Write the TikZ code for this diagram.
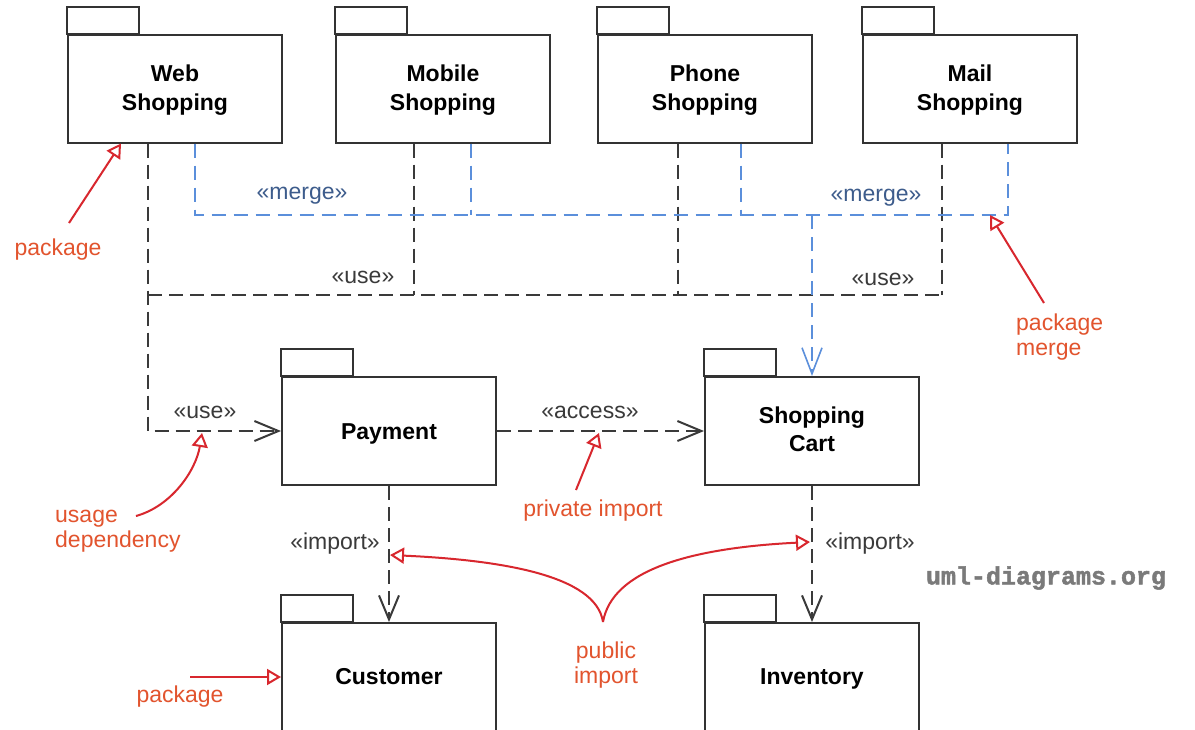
\documentclass[tikz,border=0pt]{standalone}
\usepackage{fontspec}
\setmainfont{Liberation Sans}
\newfontfamily\wmfont[BoldFeatures={FakeBold=1.8}]{Liberation Mono}
\usetikzlibrary{arrows.meta,calc}
\definecolor{boxline}{HTML}{333333}
\definecolor{depline}{HTML}{3A3A3A}
\definecolor{mergeblue}{HTML}{5B8FDB}
\definecolor{mergetext}{HTML}{3D5C8C}
\definecolor{notered}{HTML}{D8272E}
\definecolor{notetext}{HTML}{E2542E}
\definecolor{wmgray}{HTML}{7A7A7A}
\newcommand{\twoline}[3]{\raisebox{#3}[\height][\depth]{\begin{tabular}{@{}c@{}}#1\\#2\end{tabular}}}
\newcommand{\oneline}[2]{\raisebox{#2}[\height][\depth]{#1}}
\begin{document}
\begin{tikzpicture}[x=1pt,y=-1pt,
  pkg/.style={draw=boxline, line width=2pt, minimum width=214pt, minimum height=108pt,
    inner sep=0pt, align=center, font=\fontsize{23}{28.5}\selectfont\bfseries},
  tabst/.style={draw=boxline, line width=2pt},
  dep/.style={draw=depline, line width=2pt, dash pattern=on 14pt off 7pt},
  deparrow/.style={dep, -{Straight Barb[length=24pt,width=20pt,line width=2pt]}},
  mergeline/.style={draw=mergeblue, line width=1.6pt, dash pattern=on 14pt off 8pt},
  mergearrow/.style={mergeline, -{Straight Barb[length=26pt,width=20pt,line width=1.6pt]}},
  stereo/.style={text=depline, font=\fontsize{23}{26}\selectfont, inner sep=1pt},
  mstereo/.style={text=mergetext, font=\fontsize{23}{26}\selectfont, inner sep=1pt},
  note/.style={draw=notered, line width=2pt, -{Triangle[open,length=14pt,width=16pt,line width=2pt]}},
  notelabel/.style={text=notetext, font=\fontsize{23}{25.5}\selectfont, inner sep=0pt},
]
\clip (0,0) rectangle (1195,729);
\fill[white] (0,0) rectangle (1195,729);

% packages
\node[pkg] (web) at (175,88.5) {\twoline{Web}{Shopping}{-2pt}};
\node[pkg] (mobile) at (443,88.5) {\twoline{Mobile}{Shopping}{-2pt}};
\node[pkg] (phone) at (705,88.5) {\twoline{Phone}{Shopping}{-2pt}};
\node[pkg] (mail) at (970,88.5) {\twoline{Mail}{Shopping}{-2pt}};
\node[pkg] (payment) at (389,431) {\oneline{Payment}{-3pt}};
\node[pkg] (cart) at (812,431) {\twoline{Shopping}{Cart}{-1pt}};
\node[pkg] (customer) at (389,677) {Customer};
\node[pkg] (inventory) at (812,677) {\oneline{Inventory}{-2pt}};
\foreach \p in {web,mobile,phone,mail,payment,cart,customer,inventory}
  \draw[tabst] (\p.north west) rectangle ++(72,-27);

% attachment points
\coordinate (webk) at ([xshift=81pt]web.south west);
\coordinate (webb) at ([xshift=128pt]web.south west);
\coordinate (mobk) at ([xshift=79pt]mobile.south west);
\coordinate (mobb) at ([xshift=136pt]mobile.south west);
\coordinate (phok) at ([xshift=81pt]phone.south west);
\coordinate (phob) at ([xshift=144pt]phone.south west);
\coordinate (maik) at ([xshift=80pt]mail.south west);
\coordinate (maib) at ([xshift=146pt]mail.south west);
\coordinate (usebus) at (0,295);
\coordinate (mergebus) at (0,215);

% use dependencies
\draw[dep] (webk |- usebus) -- (maik |- usebus);
\draw[dep] (mobk) -- (mobk |- usebus);
\draw[dep] (phok) -- (phok |- usebus);
\draw[dep] (maik) -- (maik |- usebus);
\draw[deparrow] (webk) |- (payment.west);
\draw[deparrow] (payment.east) -- (cart.west);
\draw[deparrow] (payment.south) -- (customer.north);
\draw[deparrow] (cart.south) -- (inventory.north);

% merges
\draw[mergeline] (webb) |- (maib |- mergebus) -- (maib);
\draw[mergeline] (mobb) -- (mobb |- mergebus);
\draw[mergeline] (phob) -- (phob |- mergebus);
\draw[mergearrow] (cart.north |- mergebus) -- (cart.north);

% stereotype labels
\node[mstereo] (m1) at (302,196) {«merge»};
\node[mstereo] (m2) at (876,198) {«merge»};
\node[stereo] (u1) at (363,277) {«use»};
\node[stereo] (u2) at (883,279) {«use»};
\node[stereo] (u3) at (205,412) {«use»};
\node[stereo] (acc) at (590,412) {«access»};
\node[stereo] (imp1) at (335,544) {«import»};
\node[stereo] (imp2) at (870,544) {«import»};

% notes
\node[notelabel] (n1) at (58,250) {package};
\node[notelabel, anchor=west, align=left] (n2) at (1016,337) {package\\merge};
\node[notelabel, anchor=west, align=left] (n3) at (55,531) {usage\\dependency};
\node[notelabel] (n4) at (593,511) {private import};
\node[notelabel, align=center] (n5) at (606,665) {public\\import};
\node[notelabel] (n6) at (180,697) {package};

\coordinate (n1tail) at (69,223);
\coordinate (n1tip) at ([xshift=54pt]web.south west);
\coordinate (n2tail) at (1044,303);
\coordinate (n2tip) at (990,215);
\coordinate (n3tail) at (136,516);
\coordinate (n3tip) at (202,433);
\coordinate (n4tail) at (576,490);
\coordinate (n4tip) at (599,433);
\coordinate (n5fork) at (603,622);
\coordinate (n5left) at (390,555);
\coordinate (n5right) at (810,542);
\coordinate (n6tail) at (190,677);

\draw[note] (n1tail) -- (n1tip);
\draw[note] (n2tail) -- (n2tip);
\draw[note] (n3tail) .. controls (172,506) and (196,470) .. (n3tip);
\draw[note] (n4tail) -- (n4tip);
\draw[note] (n5fork) .. controls (596,575) and (500,560) .. (n5left);
\draw[note] (n5fork) .. controls (612,570) and (690,548) .. (n5right);
\draw[note] (n6tail) -- (customer.west);

% watermark
\node[text=wmgray, font=\wmfont\bfseries\fontsize{25}{30}\selectfont] (wm) at (1046,578) {uml-diagrams.org};
\end{tikzpicture}
\end{document}
